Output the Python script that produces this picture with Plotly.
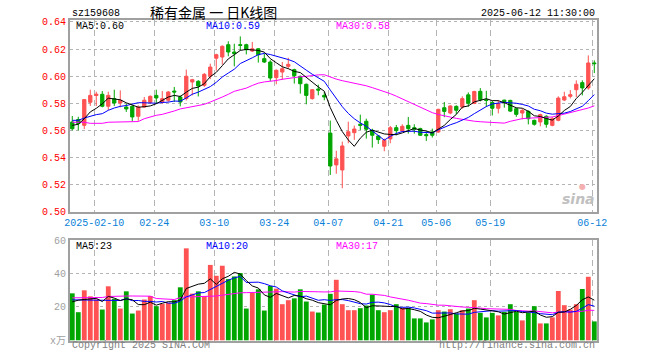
import plotly.graph_objects as go
import pandas as pd

# ---------------- data ----------------
holidays = ["2025-01-28", "2025-01-29", "2025-01-30", "2025-01-31", "2025-02-03",
            "2025-02-04", "2025-04-04", "2025-05-01", "2025-05-02", "2025-05-05",
            "2025-06-02"]
dates = [d.strftime("%Y-%m-%d") for d in
         pd.bdate_range("2025-01-27", "2025-06-12", freq="C", holidays=holidays)]

opens = [0.5662, 0.5680, 0.5637, 0.5807, 0.5857, 0.5866, 0.5778, 0.5834, 0.5802, 0.5772,
         0.5777, 0.5704, 0.5772, 0.5807, 0.5858, 0.5810, 0.5822, 0.5890, 0.5846, 0.5834,
         0.5957, 0.5962, 0.5932, 0.6000, 0.6132, 0.6141, 0.6232, 0.6178, 0.6232, 0.6232,
         0.6185, 0.6202, 0.6129, 0.6104, 0.5989, 0.6030, 0.6072, 0.6048, 0.5998, 0.5940,
         0.5834, 0.5905, 0.5858, 0.5580, 0.5345, 0.5308, 0.5559, 0.5583, 0.5645, 0.5667,
         0.5600, 0.5559, 0.5483, 0.5537, 0.5620, 0.5596, 0.5637, 0.5620, 0.5613, 0.5569,
         0.5588, 0.5588, 0.5767, 0.5728, 0.5777, 0.5772, 0.5862, 0.5798, 0.5888, 0.5826,
         0.5806, 0.5763, 0.5823, 0.5821, 0.5760, 0.5728, 0.5740, 0.5674, 0.5662, 0.5704,
         0.5637, 0.5674, 0.5824, 0.5851, 0.5900, 0.5952, 0.5913, 0.6097]
highs = [0.5706, 0.5700, 0.5830, 0.5900, 0.5885, 0.5890, 0.5885, 0.5900, 0.5895, 0.5797,
         0.5785, 0.5785, 0.5846, 0.5858, 0.5900, 0.5890, 0.5890, 0.5920, 0.5858, 0.6048,
         0.5980, 0.5970, 0.6023, 0.6092, 0.6165, 0.6227, 0.6257, 0.6239, 0.6293, 0.6239,
         0.6252, 0.6207, 0.6165, 0.6117, 0.6050, 0.6104, 0.6136, 0.6055, 0.6005, 0.5945,
         0.5905, 0.5937, 0.5883, 0.5672, 0.5450, 0.5517, 0.5664, 0.5635, 0.5716, 0.5686,
         0.5612, 0.5564, 0.5539, 0.5633, 0.5640, 0.5645, 0.5699, 0.5645, 0.5620, 0.5593,
         0.5613, 0.5760, 0.5809, 0.5785, 0.5785, 0.5851, 0.5880, 0.5892, 0.5912, 0.5892,
         0.5818, 0.5823, 0.5826, 0.5826, 0.5767, 0.5760, 0.5747, 0.5679, 0.5723, 0.5711,
         0.5699, 0.5851, 0.5885, 0.5897, 0.5969, 0.5969, 0.6153, 0.6116]
lows = [0.5600, 0.5600, 0.5610, 0.5780, 0.5780, 0.5770, 0.5750, 0.5780, 0.5770, 0.5736,
        0.5667, 0.5670, 0.5767, 0.5797, 0.5797, 0.5797, 0.5810, 0.5810, 0.5777, 0.5820,
        0.5858, 0.5850, 0.5920, 0.5978, 0.6040, 0.6085, 0.6146, 0.6072, 0.6190, 0.6160,
        0.6178, 0.6100, 0.6097, 0.5964, 0.5940, 0.5972, 0.6055, 0.5945, 0.5871, 0.5792,
        0.5827, 0.5858, 0.5822, 0.5271, 0.5280, 0.5173, 0.5505, 0.5530, 0.5603, 0.5539,
        0.5473, 0.5500, 0.5446, 0.5505, 0.5564, 0.5588, 0.5576, 0.5576, 0.5559, 0.5522,
        0.5547, 0.5581, 0.5697, 0.5718, 0.5718, 0.5760, 0.5774, 0.5794, 0.5814, 0.5772,
        0.5710, 0.5725, 0.5767, 0.5735, 0.5700, 0.5681, 0.5644, 0.5635, 0.5630, 0.5620,
        0.5630, 0.5667, 0.5816, 0.5836, 0.5846, 0.5858, 0.5900, 0.6023]
closes = [0.5612, 0.5650, 0.5827, 0.5858, 0.5867, 0.5778, 0.5858, 0.5802, 0.5822, 0.5758,
          0.5699, 0.5772, 0.5822, 0.5851, 0.5839, 0.5834, 0.5883, 0.5883, 0.5809, 0.5999,
          0.5974, 0.5927, 0.6013, 0.6067, 0.6158, 0.6220, 0.6178, 0.6166, 0.6227, 0.6195,
          0.6202, 0.6158, 0.6104, 0.5986, 0.6043, 0.6055, 0.6087, 0.6003, 0.5944, 0.5858,
          0.5900, 0.5897, 0.5846, 0.5337, 0.5390, 0.5485, 0.5590, 0.5610, 0.5637, 0.5608,
          0.5564, 0.5532, 0.5527, 0.5620, 0.5598, 0.5630, 0.5613, 0.5608, 0.5564, 0.5561,
          0.5564, 0.5755, 0.5740, 0.5780, 0.5748, 0.5834, 0.5800, 0.5887, 0.5826, 0.5821,
          0.5763, 0.5798, 0.5812, 0.5742, 0.5718, 0.5747, 0.5686, 0.5645, 0.5716, 0.5645,
          0.5686, 0.5838, 0.5848, 0.5863, 0.5940, 0.5913, 0.6097, 0.6092]
volumes = [28.1, 16.8, 29.9, 26.3, 24.4, 18.4, 32.3, 24.8, 19.0, 29.3,
           16.0, 17.8, 24.4, 26.5, 20.4, 21.8, 22.4, 24.0, 31.7, 55.0,
           27.9, 29.3, 26.5, 45.1, 38.6, 44.6, 36.6, 38.2, 40.2, 19.0,
           28.5, 30.5, 17.8, 32.5, 30.9, 21.6, 24.0, 25.1, 30.5, 23.2,
           17.2, 16.6, 21.4, 27.8, 36.2, 21.6, 18.0, 18.0, 19.2, 20.8,
           27.3, 18.0, 16.8, 18.0, 21.6, 19.4, 19.4, 13.1, 13.1, 10.7,
           12.5, 18.0, 17.2, 18.6, 16.0, 18.0, 19.0, 24.0, 16.4, 13.7,
           16.4, 14.9, 17.0, 21.6, 17.0, 11.9, 16.4, 20.4, 10.1, 10.1,
           13.7, 29.5, 21.0, 18.4, 21.6, 30.7, 38.0, 11.3]

# moving-average values before enough in-window data exist
ma5_head = [0.5637, 0.5645, 0.5686, 0.5736]
ma10_head = [0.5674, 0.5674, 0.5691, 0.5706, 0.5716, 0.5723, 0.5748, 0.5765, 0.5777]
ma30_head = [0.5660, 0.5660, 0.5660, 0.5652, 0.5652, 0.5652, 0.5660, 0.5660, 0.5660, 0.5660,
             0.5660, 0.5665, 0.5686, 0.5699, 0.5711, 0.5718, 0.5728, 0.5743, 0.5758, 0.5767,
             0.5777, 0.5785, 0.5792, 0.5809, 0.5826, 0.5846, 0.5866, 0.5888, 0.5900]
vma5_head = [23.0, 24.0, 24.4, 24.8]
vma10_head = [24.2, 24.2, 24.2, 24.2, 24.2, 24.0, 24.0, 23.8, 23.8]
vma30_head = [25.4, 25.4, 25.5, 25.5, 25.6, 25.6, 26.2, 26.4, 26.5, 26.5,
              26.5, 26.5, 26.5, 26.4, 25.0, 24.8, 24.5, 24.4, 25.5, 26.0,
              26.0, 26.1, 26.2, 26.3, 26.5, 27.0, 27.5, 28.0, 28.4]

tick_dates = ["2025-02-10", "2025-02-24", "2025-03-10", "2025-03-24", "2025-04-07",
              "2025-04-21", "2025-05-06", "2025-05-19", "2025-06-12"]
tick_labels = ["2025-02-10", "02-24", "03-10", "03-24", "04-07",
               "04-21", "05-06", "05-19", "06-12"]
price_ticks = [0.50, 0.52, 0.54, 0.56, 0.58, 0.60, 0.62, 0.64]
vol_ticks = [0, 20, 40, 60]
vol_tick_labels = ["x万", "20", "40", "60"]

title_text = "稀有金属 一 日K线图"
code_text = "sz159608"
time_text = "2025-06-12 11:30:00"
ma_labels = ["MA5:0.60", "MA10:0.59", "MA30:0.58"]
vma_labels = ["MA5:23", "MA10:20", "MA30:17"]


def moving_avg(vals, n, head):
    out = list(head)
    for i in range(n - 1, len(vals)):
        out.append(sum(vals[i - n + 1:i + 1]) / n)
    return out


xi = list(range(len(dates)))
ma5 = moving_avg(closes, 5, ma5_head)
ma10 = moving_avg(closes, 10, ma10_head)
ma30 = moving_avg(closes, 30, ma30_head)
vma5 = moving_avg(volumes, 5, vma5_head)
vma10 = moving_avg(volumes, 10, vma10_head)
vma30 = moving_avg(volumes, 30, vma30_head)

# ---------------- style ----------------
RED = "#ff5252"
GREEN = "#00a600"
MONO = "Liberation Mono, DejaVu Sans Mono, Noto Sans CJK SC, monospace"
FRAME = "#a0a0a0"
L, R, T, B = 70, 597, 20, 341
W, H = 660, 360


def px(x):
    return (x - L) / (R - L)


def py(y):
    return (B - y) / (B - T)


fig = go.Figure()

fig.add_trace(go.Candlestick(
    x=xi, open=opens, high=highs, low=lows, close=closes,
    increasing=dict(line=dict(color=RED, width=1), fillcolor=RED),
    decreasing=dict(line=dict(color=GREEN, width=1), fillcolor=GREEN),
    whiskerwidth=0, hoverinfo="skip", xaxis="x", yaxis="y"))

for vals, col in [(ma30, "#ff00ff"), (ma10, "#0000ff"), (ma5, "#000000")]:
    fig.add_trace(go.Scatter(x=xi, y=vals, mode="lines", line=dict(color=col, width=1),
                             hoverinfo="skip", xaxis="x", yaxis="y"))

bar_colors = [RED if c > o else GREEN for o, c in zip(opens, closes)]
fig.add_trace(go.Bar(x=xi, y=volumes, marker=dict(color=bar_colors, line=dict(width=0)),
                     width=0.8, hoverinfo="skip", xaxis="x2", yaxis="y2"))
for vals, col in [(vma30, "#ff00ff"), (vma10, "#0000ff"), (vma5, "#000000")]:
    fig.add_trace(go.Scatter(x=xi, y=vals, mode="lines", line=dict(color=col, width=1),
                             hoverinfo="skip", xaxis="x2", yaxis="y2"))

tickpos = [dates.index(d) - 0.33 for d in tick_dates]
xrange_ = [-0.38, len(dates) - 1 + 0.45]

common_x = dict(range=xrange_, tickvals=tickpos, showgrid=True, gridcolor="#b4b4b4",
                griddash="6px,4px", gridwidth=1, showline=True, linecolor=FRAME,
                linewidth=2, mirror=True, zeroline=False, ticks="", fixedrange=True)

fig.update_layout(
    width=W, height=H, margin=dict(l=L, r=W - R, t=T, b=H - B, pad=0),
    paper_bgcolor="white", plot_bgcolor="white", showlegend=False,
    boxgap=0.22, bargap=0.2,
    xaxis=dict(common_x, anchor="y", ticktext=tick_labels,
               tickfont=dict(family=MONO, size=10, color="#0a7fd8"),
               rangeslider=dict(visible=False)),
    yaxis=dict(domain=[(B - 212) / (B - T), 1], range=[0.4998, 0.6414],
               tickvals=price_ticks, ticktext=[f"{v:.2f}" for v in price_ticks],
               tickfont=dict(family=MONO, size=10, color="#ff0000"),
               showgrid=True, gridcolor="#b4b4b4", griddash="dot", gridwidth=1,
               showline=True, linecolor=FRAME, linewidth=2, mirror=True,
               zeroline=False, ticks="", fixedrange=True, anchor="x"),
    xaxis2=dict(common_x, anchor="y2", showticklabels=False),
    yaxis2=dict(domain=[0, (B - 240) / (B - T)], range=[-0.42, 60],
                tickvals=vol_ticks, ticktext=vol_tick_labels,
                tickfont=dict(family=MONO, size=10, color="#a0a0a0"),
                showgrid=True, gridcolor="#b4b4b4", griddash="dot", gridwidth=1,
                showline=True, linecolor=FRAME, linewidth=2, mirror=True,
                zeroline=False, ticks="", fixedrange=True, anchor="x2"),
)

ann = []


def text(s, x, y, color, xanchor="left", size=10, family=MONO, **kw):
    ann.append(dict(text=s, x=px(x), y=py(y), xref="paper", yref="paper",
                    xanchor=xanchor, yanchor="middle", showarrow=False,
                    font=dict(family=family, size=size, color=color, **kw)))


text(code_text, 70, 13, "#000000")
text(title_text, 213, 12.5, "#000000", xanchor="center", size=14,
     family="Noto Sans CJK SC, sans-serif")
text(time_text, 597, 13, "#000000", xanchor="right")
for s, x, c in zip(ma_labels, [74, 204, 334], ["#000000", "#0000ff", "#ff00ff"]):
    text(s, x, 26, c)
for s, x, c in zip(vma_labels, [74, 204, 334], ["#000000", "#0000ff", "#ff00ff"]):
    text(s, x, 246.5, c)
text("Copyright 2025 SINA.COM", 70, 346, "#808080")
text("http://finance.sina.com.cn", 597, 346, "#808080", xanchor="right")
# sina watermark
text("sina", 597, 199, "#c0c0c0", xanchor="right", size=14,
     family="DejaVu Sans, sans-serif", weight="bold", style="italic")
text("●", 582, 187, "#f4b0b0", xanchor="center", size=8,
     family="DejaVu Sans, sans-serif")

fig.update_layout(annotations=ann)
fig.write_html("out.html", config={"displayModeBar": False},
               post_script="document.body.style.margin='0px';")
